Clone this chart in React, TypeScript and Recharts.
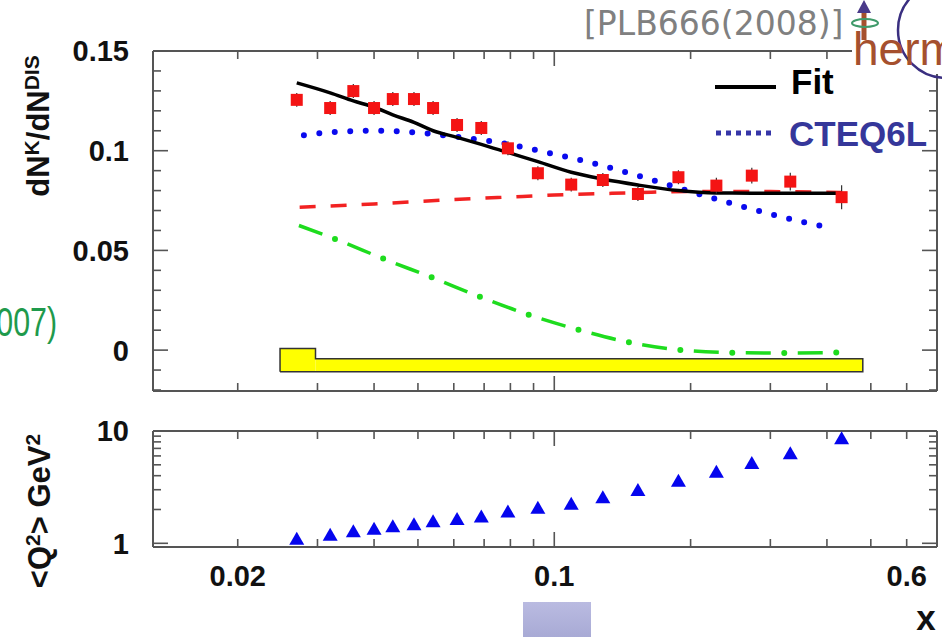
import React from "react";
import {
  ComposedChart,
  Line,
  Scatter,
  XAxis,
  YAxis,
  ErrorBar,
  ReferenceArea,
} from "recharts";

// x-bin centres (shared by the kaon multiplicities and <Q2>)
const xBins = [
  0.027, 0.032, 0.036, 0.04, 0.044, 0.049, 0.054, 0.061, 0.069, 0.079, 0.092,
  0.109, 0.128, 0.153, 0.188, 0.228, 0.273, 0.332, 0.431,
];
const kaonMult = [
  0.1255, 0.1214, 0.1299, 0.1214, 0.1259, 0.1259, 0.1214, 0.1129, 0.1114,
  0.1012, 0.0887, 0.083, 0.0853, 0.0783, 0.0867, 0.0825, 0.0875, 0.0845, 0.0767,
];
const kaonErr = [
  0.0035, 0.0035, 0.0035, 0.0035, 0.0035, 0.0035, 0.0035, 0.0035, 0.0035,
  0.0035, 0.0035, 0.0035, 0.0035, 0.0035, 0.0035, 0.004, 0.004, 0.0045, 0.006,
];
const meanQ2 = [
  1.1, 1.19, 1.28, 1.35, 1.42, 1.48, 1.57, 1.65, 1.73, 1.92, 2.07, 2.25, 2.57,
  2.99, 3.61, 4.34, 5.18, 6.35, 8.61,
];

// fit curve, evaluated at the bin centres
const fitVals = [
  0.134, 0.129, 0.125, 0.1218, 0.118, 0.1142, 0.11, 0.1067, 0.1032, 0.0991,
  0.0945, 0.0892, 0.0858, 0.0828, 0.08, 0.0788, 0.0787, 0.0787, 0.0787,
];

// CTEQ6L prediction
const cteqX = [
  0.028, 0.032, 0.036, 0.04, 0.045, 0.05, 0.06, 0.07, 0.08, 0.09, 0.1, 0.12,
  0.15, 0.2, 0.25, 0.3, 0.35, 0.4,
];
const cteqVals = [
  0.1078, 0.1092, 0.1098, 0.11, 0.1097, 0.1091, 0.1071, 0.1052, 0.1031,
  0.1006, 0.0983, 0.0941, 0.088, 0.0795, 0.0731, 0.0683, 0.0645, 0.0617,
];

// non-strange contribution (red dashed)
const nonStrangeX = [0.0274, 0.04, 0.06, 0.08, 0.1, 0.15, 0.2, 0.3, 0.43];
const nonStrangeVals = [
  0.0717, 0.0733, 0.0755, 0.0768, 0.0778, 0.0789, 0.0796, 0.0795, 0.079,
];

// strange contribution (green dash-dot)
const strangeX = [
  0.0273, 0.033, 0.042, 0.054, 0.069, 0.0885, 0.114, 0.147, 0.192, 0.251,
  0.327, 0.426,
];
const strangeVals = [
  0.0625, 0.0555, 0.0458, 0.0362, 0.0265, 0.0175, 0.01, 0.0038, 0, -0.0013,
  -0.0015, -0.0012,
];

// systematic uncertainty band: bin edges, band top per bin, common base
const sysEdges = [0.0248, 0.0297, 0.48];
const sysTop = [0.0008, -0.0043];
const sysBase = -0.0108;

// axis ticks
const xTicks = [
  0.02, 0.03, 0.04, 0.05, 0.06, 0.07, 0.08, 0.09, 0.1, 0.2, 0.3, 0.4, 0.5, 0.6,
];
const xMajor = [0.1];
const xLabelled = [0.02, 0.1, 0.6];
const multTicks = [
  -0.02, -0.01, 0, 0.01, 0.02, 0.03, 0.04, 0.05, 0.06, 0.07, 0.08, 0.09, 0.1,
  0.11, 0.12, 0.13, 0.14, 0.15,
];
const multLabelled = [0, 0.05, 0.1, 0.15];
const q2Ticks = [1, 2, 3, 4, 5, 6, 7, 8, 9, 10];
const q2Labelled = [1, 10];

const X_DOMAIN: [number, number] = [0.013, 0.7];
const MULT_DOMAIN: [number, number] = [-0.0205, 0.15];
const Q2_DOMAIN: [number, number] = [0.927, 10];

const FRAME = "#555";
const FONT = "'Liberation Sans', Arial, Helvetica, sans-serif";

const multRows = xBins.map((x, i) => ({ x, y: kaonMult[i], err: kaonErr[i] }));
const q2Rows = xBins.map((x, i) => ({ x, y: meanQ2[i] }));
const fitRows = xBins.map((x, i) => ({ x, y: fitVals[i] }));
const cteqRows = cteqX.map((x, i) => ({ x, y: cteqVals[i] }));
const nonStrangeRows = nonStrangeX.map((x, i) => ({ x, y: nonStrangeVals[i] }));
const strangeRows = strangeX.map((x, i) => ({ x, y: strangeVals[i] }));

// outline of the stepped band, walked as a closed polygon
const sysOutline = (() => {
  const pts = [{ x: sysEdges[0], y: sysBase }];
  sysTop.forEach((t, i) => {
    pts.push({ x: sysEdges[i], y: t });
    pts.push({ x: sysEdges[i + 1], y: t });
  });
  pts.push({ x: sysEdges[sysEdges.length - 1], y: sysBase });
  pts.push({ x: sysEdges[0], y: sysBase });
  return pts;
})();

type Side = "left" | "right" | "top" | "bottom";

const near = (list: number[], v: number) =>
  list.some((m) => Math.abs(m - v) < 1e-9);

const tickText = {
  fontFamily: FONT,
  fontWeight: 700,
  fontSize: 29,
  fill: "#111",
};

// ticks point inward from the frame; labels only where listed
const makeTick =
  (side: Side, majors: number[], labelled: number[] = []) =>
  (props: any) => {
    const { x, y, payload } = props;
    const v: number = payload.value;
    const len = near(majors, v) ? 15 : 8;
    const dx = side === "left" ? len : side === "right" ? -len : 0;
    const dy = side === "bottom" ? -len : side === "top" ? len : 0;
    const show = near(labelled, v);
    return (
      <g>
        <line
          x1={x}
          y1={y}
          x2={x + dx}
          y2={y + dy}
          stroke={FRAME}
          strokeWidth={1.6}
        />
        {show && side === "left" && (
          <text x={x - 24} y={y} dy="0.36em" textAnchor="end" {...tickText}>
            {String(v)}
          </text>
        )}
        {show && side === "bottom" && (
          <text x={x} y={y + 39} textAnchor="middle" {...tickText}>
            {String(v)}
          </text>
        )}
      </g>
    );
  };

const axisLine = { stroke: FRAME, strokeWidth: 2 };

const Square = (p: any) => (
  <rect x={p.cx - 6} y={p.cy - 6} width={12} height={12} fill="#f41414" />
);

const Triangle = (p: any) => (
  <polygon
    points={`${p.cx},${p.cy - 7} ${p.cx - 7.5},${p.cy + 6} ${p.cx + 7.5},${p.cy + 6}`}
    fill="#0505ee"
  />
);

// axes are 1px thick so that they still render; ticks are drawn by makeTick
const commonX = {
  dataKey: "x",
  type: "number" as const,
  scale: "log" as const,
  domain: X_DOMAIN,
  allowDataOverflow: true,
  ticks: xTicks,
  interval: 0 as const,
  height: 1,
  tickSize: 0,
  tickMargin: 0,
  tickLine: false,
  axisLine,
};

const commonY = {
  type: "number" as const,
  allowDataOverflow: true,
  interval: 0 as const,
  width: 1,
  tickSize: 0,
  tickMargin: 0,
  tickLine: false,
  axisLine,
};

const MultiplicityPanel = () => (
  <ComposedChart
    width={942}
    height={400}
    margin={{ top: 50, right: 4, bottom: 8, left: 152 }}
  >
    <XAxis xAxisId="b" {...commonX} tick={makeTick("bottom", xMajor)} />
    <XAxis
      xAxisId="t"
      orientation="top"
      {...commonX}
      tick={makeTick("top", xMajor)}
    />
    <YAxis
      yAxisId="l"
      {...commonY}
      domain={MULT_DOMAIN}
      ticks={multTicks}
      tick={makeTick("left", multLabelled, multLabelled)}
    />
    <YAxis
      yAxisId="r"
      orientation="right"
      {...commonY}
      domain={MULT_DOMAIN}
      ticks={multTicks}
      tick={makeTick("right", multLabelled)}
    />

    {sysTop.map((t, i) => (
      <ReferenceArea
        key={i}
        xAxisId="b"
        yAxisId="l"
        x1={sysEdges[i]}
        x2={sysEdges[i + 1]}
        y1={sysBase}
        y2={t}
        fill="#ffff00"
        fillOpacity={1}
        stroke="none"
        ifOverflow="visible"
      />
    ))}
    <Line
      xAxisId="b"
      yAxisId="l"
      data={sysOutline}
      dataKey="y"
      type="linear"
      stroke="#333"
      strokeWidth={1.5}
      dot={false}
      activeDot={false}
      isAnimationActive={false}
    />

    <Line
      xAxisId="b"
      yAxisId="l"
      data={nonStrangeRows}
      dataKey="y"
      type="monotone"
      stroke="#f22222"
      strokeWidth={3.5}
      strokeDasharray="16 15"
      dot={false}
      activeDot={false}
      isAnimationActive={false}
    />
    <Line
      xAxisId="b"
      yAxisId="l"
      data={strangeRows}
      dataKey="y"
      type="monotone"
      stroke="#1edc1e"
      strokeWidth={3.5}
      strokeDasharray="25 27"
      dot={false}
      activeDot={false}
      isAnimationActive={false}
    />
    <Line
      xAxisId="b"
      yAxisId="l"
      data={strangeRows}
      dataKey="y"
      type="monotone"
      stroke="#1edc1e"
      strokeWidth={6}
      strokeLinecap="round"
      strokeDasharray="0 52"
      strokeDashoffset={-38.5}
      dot={false}
      activeDot={false}
      isAnimationActive={false}
    />
    <Line
      xAxisId="b"
      yAxisId="l"
      data={cteqRows}
      dataKey="y"
      type="monotone"
      stroke="#0a0aee"
      strokeWidth={6}
      strokeLinecap="round"
      strokeDasharray="0 15.5"
      dot={false}
      activeDot={false}
      isAnimationActive={false}
    />
    <Line
      xAxisId="b"
      yAxisId="l"
      data={fitRows}
      dataKey="y"
      type="monotone"
      stroke="#000"
      strokeWidth={3.5}
      dot={false}
      activeDot={false}
      isAnimationActive={false}
    />
    <Scatter
      xAxisId="b"
      yAxisId="l"
      data={multRows}
      dataKey="y"
      shape={Square}
      isAnimationActive={false}
    >
      <ErrorBar
        dataKey="err"
        direction="y"
        width={0}
        stroke="#333"
        strokeWidth={1.2}
      />
    </Scatter>
  </ComposedChart>
);

const Q2Panel = () => (
  <ComposedChart
    width={942}
    height={237}
    margin={{ top: 30, right: 4, bottom: 89, left: 152 }}
  >
    <XAxis
      xAxisId="b"
      {...commonX}
      tick={makeTick("bottom", xMajor, xLabelled)}
    />
    <XAxis
      xAxisId="t"
      orientation="top"
      {...commonX}
      tick={makeTick("top", xMajor)}
    />
    <YAxis
      yAxisId="l"
      {...commonY}
      scale="log"
      domain={Q2_DOMAIN}
      ticks={q2Ticks}
      tick={makeTick("left", q2Labelled, q2Labelled)}
    />
    <YAxis
      yAxisId="r"
      orientation="right"
      {...commonY}
      scale="log"
      domain={Q2_DOMAIN}
      ticks={q2Ticks}
      tick={makeTick("right", q2Labelled)}
    />
    <Scatter
      xAxisId="b"
      yAxisId="l"
      data={q2Rows}
      dataKey="y"
      shape={Triangle}
      isAnimationActive={false}
    />
  </ComposedChart>
);

const labelStyle = {
  fontFamily: FONT,
  fontWeight: 700,
  fontSize: 31,
  fill: "#111",
};

// titles, legend, reference tag and logo drawn over the two panels
const Overlay = () => (
  <svg
    width={942}
    height={637}
    style={{ position: "absolute", left: 0, top: 0, pointerEvents: "none" }}
  >
    <defs>
      <linearGradient id="slideTab" x1="0" y1="0" x2="0" y2="1">
        <stop offset="0" stopColor="#babbe1" />
        <stop offset="1" stopColor="#a8aad5" />
      </linearGradient>
    </defs>

    <text transform="translate(49,126) rotate(-90)" textAnchor="middle" {...labelStyle}>
      dN
      <tspan dy={-10} fontSize={21}>K</tspan>
      <tspan dy={10}>/dN</tspan>
      <tspan dy={-10} fontSize={21}>DIS</tspan>
    </text>
    <text transform="translate(50,511) rotate(-90)" textAnchor="middle" {...labelStyle}>
      {"<Q"}
      <tspan dy={-10} fontSize={21}>2</tspan>
      <tspan dy={10}>{"> GeV"}</tspan>
      <tspan dy={-10} fontSize={21}>2</tspan>
    </text>
    <text x={926} y={630} textAnchor="middle" {...labelStyle} fontSize={35}>
      x
    </text>

    <g transform="scale(0.74,1)">
      <text
        x={57 / 0.74}
        y={336}
        textAnchor="end"
        fontFamily={FONT}
        fontSize={41}
        fill="#1f9a4c"
      >
        (2007)
      </text>
    </g>

    {/* legend */}
    <line x1={715} y1={87} x2={776} y2={87} stroke="#000" strokeWidth={4} />
    <text x={791} y={94} fontFamily={FONT} fontWeight={700} fontSize={35} fill="#000">
      Fit
    </text>
    <line
      x1={716}
      y1={133}
      x2={776}
      y2={133}
      stroke="#3535a8"
      strokeWidth={5}
      strokeDasharray="5 5"
    />
    <text x={789} y={146} fontFamily={FONT} fontWeight={700} fontSize={35} fill="#35379a">
      CTEQ6L
    </text>

    <text x={584} y={35} fontFamily="'DejaVu Sans', sans-serif" fontSize={33} fill="#808080">
      [PLB666(2008)]
    </text>

    {/* logo */}
    <rect x={852} y={0} width={90} height={74} fill="#fff" />
    <circle cx={946} cy={30} r={48} fill="none" stroke="#3a2f80" strokeWidth={2.5} />
    <text x={853} y={65} fontFamily={FONT} fontSize={46} fill="#a5502e">
      hermes
    </text>
    <line x1={864} y1={10} x2={864} y2={40} stroke="#a5502e" strokeWidth={5} />
    <polygon points="864,0 857,13 871,13" fill="#4a3a8a" />
    <ellipse cx={865} cy={23} rx={13} ry={4} fill="none" stroke="#3f9a6a" strokeWidth={2} />

    <rect x={523} y={602} width={68} height={35} fill="url(#slideTab)" />
  </svg>
);

const App = () => (
  <div
    style={{
      position: "absolute",
      left: 0,
      top: 0,
      width: 942,
      height: 637,
      background: "#fff",
      overflow: "hidden",
    }}
  >
    <div style={{ position: "absolute", left: 0, top: 0 }}>
      <MultiplicityPanel />
    </div>
    <div style={{ position: "absolute", left: 0, top: 400 }}>
      <Q2Panel />
    </div>
    <Overlay />
  </div>
);

export default App;
